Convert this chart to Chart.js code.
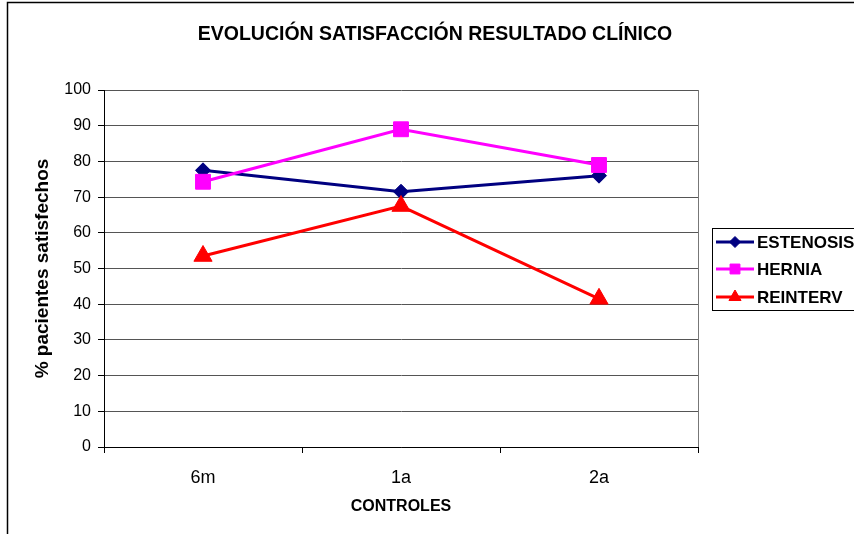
<!DOCTYPE html>
<html>
<head>
<meta charset="utf-8">
<script src="https://cdn.jsdelivr.net/npm/chart.js@4/dist/chart.umd.min.js"></script>
<style>
  html, body { margin: 0; padding: 0; background: #fff; }
  #wrap { width: 854px; height: 534px; position: relative; }
</style>
</head>
<body>
<div id="wrap"><canvas id="c" width="854" height="534"></canvas></div>
<script>
// Follow-up checkpoints
const controles = ['6m', '1a', '2a'];

// % of satisfied patients per group
const estenosis = [77.5, 71.5, 76];
const hernia = [74.3, 89, 79];
const reinterv = [53.5, 67.5, 41.5];

const seriesNames = ['ESTENOSIS', 'HERNIA', 'REINTERV'];
const yTicks = [0, 10, 20, 30, 40, 50, 60, 70, 80, 90, 100];

const FONT = "'Liberation Sans', Arial, sans-serif";

// Outer frame of the chart object
const framePlugin = {
  id: 'frame',
  beforeDraw(chart) {
    const ctx = chart.ctx;
    ctx.save();
    ctx.fillStyle = '#fff';
    ctx.fillRect(0, 0, chart.width, chart.height);
    ctx.strokeStyle = '#000';
    ctx.lineWidth = 1.5;
    ctx.beginPath();
    ctx.moveTo(7.5, chart.height + 2);
    ctx.lineTo(7.5, 2.5);
    ctx.lineTo(chart.width + 2, 2.5);
    ctx.stroke();
    ctx.restore();
  },
  afterDatasetsDraw(chart) {
    // right edge of the plot area
    const a = chart.chartArea;
    const ctx = chart.ctx;
    ctx.save();
    ctx.strokeStyle = '#777';
    ctx.lineWidth = 1;
    ctx.beginPath();
    ctx.moveTo(Math.round(a.right) + 0.5, a.top);
    ctx.lineTo(Math.round(a.right) + 0.5, a.bottom);
    ctx.stroke();
    ctx.restore();
  }
};

// Boxed legend with line + marker samples
const boxLegend = {
  id: 'boxLegend',
  afterDraw(chart) {
    const ctx = chart.ctx;
    const bx = 712.5, by = 228.5, bw = 160, bh = 82;
    ctx.save();
    ctx.strokeStyle = '#000';
    ctx.lineWidth = 1;
    ctx.strokeRect(bx, by, bw, bh);
    const rows = [242, 269, 297];
    chart.data.datasets.forEach((ds, i) => {
      const y = rows[i];
      ctx.strokeStyle = ds.borderColor;
      ctx.lineWidth = 3;
      ctx.beginPath();
      ctx.moveTo(716, y);
      ctx.lineTo(754, y);
      ctx.stroke();
      ctx.fillStyle = ds.borderColor;
      ctx.strokeStyle = ds.borderColor;
      ctx.lineWidth = 1;
      Chart.helpers.drawPoint(ctx, {
        pointStyle: ds.pointStyle,
        radius: ds.legendRadius,
        borderWidth: 1,
        rotation: 0
      }, 735, y);
      ctx.fillStyle = '#000';
      ctx.font = 'bold 17px ' + FONT;
      ctx.textAlign = 'left';
      ctx.textBaseline = 'middle';
      ctx.fillText(ds.label, 757, y + 1);
    });
    ctx.restore();
  }
};

function series(label, data, color, style, radius, legendRadius, order) {
  return {
    label, data,
    borderColor: color,
    backgroundColor: color,
    pointBackgroundColor: color,
    pointBorderColor: color,
    pointBorderWidth: 1,
    pointStyle: style,
    pointRadius: radius,
    pointHoverRadius: radius,
    legendRadius,
    borderWidth: 3,
    tension: 0,
    fill: false,
    order
  };
}

new Chart(document.getElementById('c'), {
  type: 'line',
  data: {
    labels: controles,
    datasets: [
      series(seriesNames[0], estenosis, '#000080', 'rectRot', 7.5, 5.5, 2),
      series(seriesNames[1], hernia, '#FF00FF', 'rect', 10.5, 7, 1),
      series(seriesNames[2], reinterv, '#FF0000', 'triangle', 10.5, 7, 0)
    ]
  },
  options: {
    responsive: false,
    devicePixelRatio: 1,
    animation: false,
    layout: { padding: { left: 16, right: 0, top: 0, bottom: 0 } },
    plugins: {
      legend: { display: false },
      tooltip: { enabled: false },
      title: {
        display: true,
        text: 'EVOLUCIÓN SATISFACCIÓN RESULTADO CLÍNICO',
        color: '#000',
        font: { family: FONT, size: 19.5, weight: 'bold' },
        padding: { top: 23, bottom: 43.6 }
      }
    },
    scales: {
      x: {
        type: 'category',
        offset: true,
        grid: {
          display: true,
          drawOnChartArea: false,
          drawTicks: true,
          offset: true,
          tickLength: 6,
          tickColor: '#000'
        },
        border: { display: true, color: '#000', width: 1 },
        ticks: {
          color: '#000',
          font: { family: FONT, size: 18 },
          padding: 14,
          maxRotation: 0
        },
        title: {
          display: true,
          text: 'CONTROLES',
          color: '#000',
          font: { family: FONT, size: 16, weight: 'bold' },
          padding: { top: 0, bottom: 17.4 }
        },
        afterFit(scale) { scale.height = 87; }
      },
      y: {
        min: 0,
        max: 100,
        afterBuildTicks(scale) { scale.ticks = yTicks.map(v => ({ value: v })); },
        grid: {
          color: '#555',
          lineWidth: 1,
          tickLength: 6,
          tickColor: '#000'
        },
        border: { display: true, color: '#000', width: 1 },
        ticks: {
          color: '#000',
          font: { family: FONT, size: 16 },
          padding: 7
        },
        title: {
          display: true,
          text: '% pacientes satisfechos',
          color: '#000',
          font: { family: FONT, size: 19, weight: 'bold' },
          padding: { top: 15.6, bottom: 0 }
        },
        afterFit(scale) { scale.width = 88; }
      },
      reserve: {
        type: 'linear',
        position: 'right',
        display: true,
        grid: { display: false, drawTicks: false },
        border: { display: false },
        ticks: { display: false },
        afterFit(scale) { scale.width = 156; }
      }
    }
  },
  plugins: [framePlugin, boxLegend]
});
</script>
</body>
</html>
